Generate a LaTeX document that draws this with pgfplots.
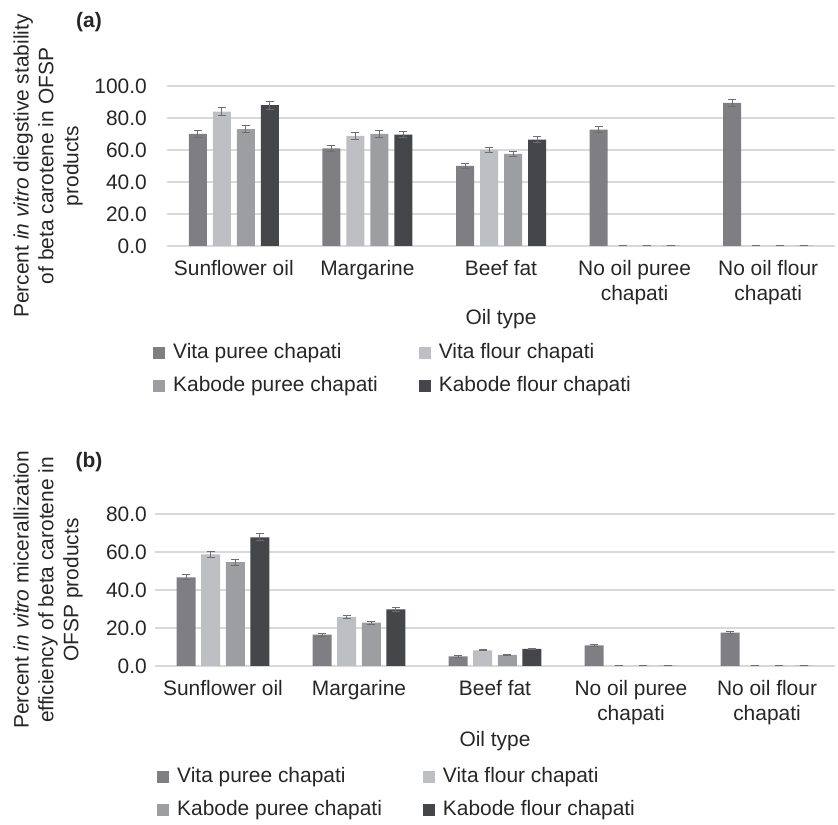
\documentclass[border=0pt]{standalone}
\usepackage{pgfplots}
\pgfplotsset{compat=1.18}
\usepackage{pgfplotstable}
\usepackage{fontspec}
\setmainfont{Liberation Sans}
\definecolor{c1}{HTML}{7F7F83}
\definecolor{c2}{HTML}{BEBFC3}
\definecolor{c3}{HTML}{9D9EA1}
\definecolor{c4}{HTML}{45464A}
\definecolor{gridc}{HTML}{D9D9D9}
\definecolor{errc}{HTML}{6E6E6E}
\definecolor{txt}{HTML}{262626}

% panel (a): in vitro digestive stability
\pgfplotstableread{
x y e
0 70.0 2.0
1 61.0 1.8
2 50.0 1.5
3 72.7 2.0
4 89.5 2.3
}\aVP
\pgfplotstableread{
x y e
0 84.0 2.5
1 68.8 2.3
2 60.0 1.8
3 0 0
4 0 0
}\aVF
\pgfplotstableread{
x y e
0 73.0 2.2
1 70.0 2.3
2 57.5 1.7
3 0 0
4 0 0
}\aKP
\pgfplotstableread{
x y e
0 88.0 2.6
1 69.6 2.0
2 66.5 2.0
3 0 0
4 0 0
}\aKF
% panel (b): micellarization efficiency
\pgfplotstableread{
x y e
0 46.7 1.3
1 16.5 0.8
2 5.0 0.3
3 10.8 0.5
4 17.6 0.6
}\bVP
\pgfplotstableread{
x y e
0 58.8 1.6
1 25.8 0.9
2 8.2 0.3
3 0 0
4 0 0
}\bVF
\pgfplotstableread{
x y e
0 54.7 1.6
1 22.8 0.8
2 5.8 0.3
3 0 0
4 0 0
}\bKP
\pgfplotstableread{
x y e
0 67.7 1.9
1 29.8 1.0
2 9.0 0.4
3 0 0
4 0 0
}\bKF

\newcommand{\fs}{\fontsize{21}{25}\selectfont}
\pgfplotsset{
  mybars/.style={
    ybar, scale only axis, clip=false,
    xmin=-0.5, xmax=4.5, ymin=0,
    axis line style={draw=none},
    tick style={draw=none},
    ymajorgrids, major grid style={gridc, line width=1.2bp},
    xtick={0,1,2,3,4},
    xticklabels={Sunflower oil, Margarine, Beef fat, {No oil puree\\chapati}, {No oil flour\\chapati}},
    xticklabel style={align=center, font=\fs, text=txt, inner sep=0pt, anchor=north, yshift=-10bp},
    yticklabel style={font=\fs, text=txt, inner sep=0pt, anchor=east,
      /pgf/number format/fixed, /pgf/number format/fixed zerofill,
      /pgf/number format/precision=1, /pgf/number format/assume math mode=true},
    legend columns=2,
    legend cell align=left,
    legend style={draw=none, fill=none, font=\fs, text=txt, inner sep=0pt,
      row sep=13bp,
      nodes={inner sep=0pt, text height=15bp, text depth=5bp},
      /tikz/every odd column/.append style={column sep=8bp},
      /tikz/every even column/.append style={column sep=41bp}},
  },
  sq/.style={legend image code/.code={\fill[##1] (0bp,-6bp) rectangle (12bp,6bp);}},
  errb/.style={error bars/.cd, y dir=both, y explicit,
    error bar style={draw=errc, line width=1bp, solid},
    error mark options={draw=errc, rotate=90, mark size=4bp, line width=1bp, solid}},
}

\begin{document}
\begin{tikzpicture}[x=1bp,y=1bp]
\useasboundingbox (0,0) rectangle (838,825);

% ---------- (a) ----------
\begin{axis}[mybars,
  at={(167bp,579bp)}, anchor=south west,
  width=668bp, height=160bp,
  ymax=100, ytick={0,20,40,60,80,100},
  bar width=18bp, ybar=6bp,
  yticklabel style={xshift=-20bp},
  legend style={at={(-0.021,-0.607)}, anchor=north west},
]
\addplot[fill=c1, draw=none, sq, errb] table[x=x, y=y, y error=e]{\aVP};
\addplot[fill=c2, draw=none, sq, errb] table[x=x, y=y, y error=e]{\aVF};
\addplot[fill=c3, draw=none, sq, errb] table[x=x, y=y, y error=e]{\aKP};
\addplot[fill=c4, draw=none, sq, errb] table[x=x, y=y, y error=e]{\aKF};
\legend{Vita puree chapati, Vita flour chapati, Kabode puree chapati, Kabode flour chapati}
\node[rotate=90, align=center, font=\fs, text=txt] at ([xshift=-119bp]axis description cs:0,0.5)
  {Percent \textit{in vitro} diegstive stability\\of beta carotene in OFSP\\products};
\node[font=\fs\bfseries, text=txt] at ([xshift=-78bp, yshift=64bp]axis description cs:0,1) {(a)};
\node[font=\fs, text=txt] at ([yshift=-73bp]axis description cs:0.5,0) {Oil type};
\end{axis}

% ---------- (b) ----------
\begin{axis}[mybars,
  at={(155bp,159bp)}, anchor=south west,
  width=680bp, height=152bp,
  ymax=80, ytick={0,20,40,60,80},
  bar width=19bp, ybar=5.6bp,
  yticklabel style={xshift=-8bp},
  legend style={at={(0.003,-0.664)}, anchor=north west},
]
\addplot[fill=c1, draw=none, sq, errb] table[x=x, y=y, y error=e]{\bVP};
\addplot[fill=c2, draw=none, sq, errb] table[x=x, y=y, y error=e]{\bVF};
\addplot[fill=c3, draw=none, sq, errb] table[x=x, y=y, y error=e]{\bKP};
\addplot[fill=c4, draw=none, sq, errb] table[x=x, y=y, y error=e]{\bKF};
\legend{Vita puree chapati, Vita flour chapati, Kabode puree chapati, Kabode flour chapati}
\node[rotate=90, align=center, font=\fs, text=txt] at ([xshift=-107bp]axis description cs:0,0.5)
  {Percent \textit{in vitro} micerallization\\efficiency of beta carotene in\\OFSP products};
\node[font=\fs\bfseries, text=txt] at ([xshift=-66bp, yshift=52bp]axis description cs:0,1) {(b)};
\node[font=\fs, text=txt] at ([yshift=-75bp]axis description cs:0.5,0) {Oil type};
\end{axis}
\end{tikzpicture}
\end{document}
